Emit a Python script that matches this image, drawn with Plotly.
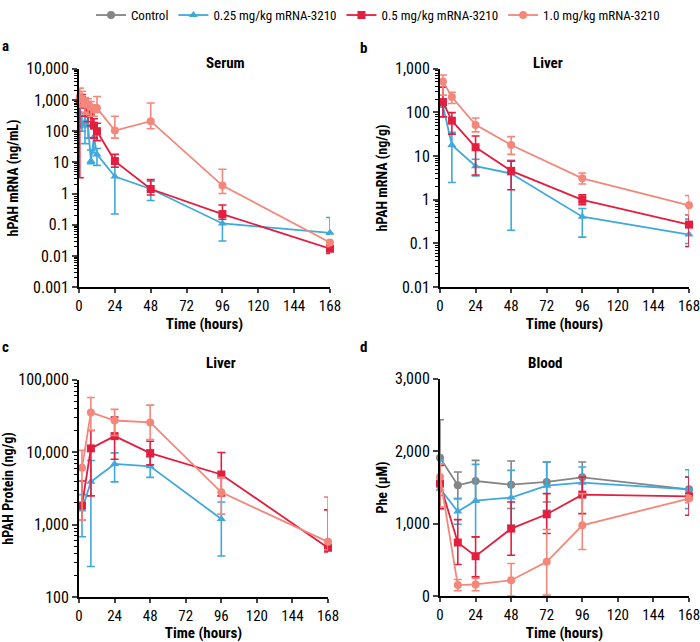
import plotly.graph_objects as go

# Dose groups
groups = ["Control", "0.25 mg/kg mRNA-3210", "0.5 mg/kg mRNA-3210", "1.0 mg/kg mRNA-3210"]
colors = ["#858585", "#3fa9dc", "#e31e3f", "#f4877b"]
symbols = ["circle", "triangle-up", "square", "circle"]

# a - Serum hPAH mRNA (ng/mL)
serum_t = [0.5, 2, 4, 6, 8, 10, 12, 24, 48, 96, 168]
serum_025 = [400, 160, 200, 150, 11, 65, 18, 3.5, 1.4, 0.11, 0.055]
serum_025_hi = [600, 320, 300, 280, 25, 150, 28, 7, 2.5, 0.19, 0.17]
serum_025_lo = [130, 100, 40, 60, 9, 20, 8, 0.22, 0.6, 0.03, 0.05]
serum_05 = [900, 1000, 700, 550, 400, 150, 100, 11, 1.4, 0.22, 0.017]
serum_05_hi = [1500, 1500, 1100, 900, 700, 250, 180, 18, 2.8, 0.43, 0.022]
serum_05_lo = [3.2, 600, 300, 200, 150, 60, 50, 7, 0.9, 0.15, 0.012]
serum_10 = [1300, 1100, 800, 700, 600, 500, 550, 105, 210, 1.8, 0.027]
serum_10_hi = [2400, 1900, 1200, 1100, 900, 700, 1300, 300, 800, 6, 0.03]
serum_10_lo = [700, 600, 400, 350, 300, 300, 400, 60, 120, 1.0, 0.02]

# b - Liver hPAH mRNA (ng/g)
liver_t = [2, 8, 24, 48, 96, 168]
liver_025 = [140, 18, 5.9, 4.0, 0.41, 0.16]
liver_025_hi = [200, 35, 8.5, 8, 0.63, 0.36]
liver_025_lo = [78, 2.5, 3.5, 0.2, 0.14, 0.1]
liver_05 = [173, 65, 16, 4.6, 1.0, 0.27]
liver_05_hi = [380, 99, 29, 7.7, 1.3, 0.45]
liver_05_lo = [80, 32, 3.7, 1.7, 0.77, 0.085]
liver_10 = [515, 225, 52, 18, 3.1, 0.75]
liver_10_hi = [720, 290, 75, 28, 4.1, 1.25]
liver_10_lo = [250, 160, 36, 11, 2.3, 0.45]

# c - Liver hPAH protein (ng/g)
prot_t = [2, 8, 24, 48, 96, 168]
prot_025_t = [2, 8, 24, 48, 96]
prot_025 = [1620, 3900, 6900, 6400, 1200]
prot_025_hi = [2600, 7700, 9800, 8600, 2060]
prot_025_lo = [680, 265, 3900, 4500, 370]
prot_05 = [1840, 11300, 16700, 9730, 4930, 480]
prot_05_hi = [4000, 20000, 30500, 14200, 9900, 1600]
prot_05_lo = [1150, 2500, 8000, 6700, 2500, 420]
prot_10 = [6100, 35400, 27400, 25800, 2800, 580]
prot_10_hi = [10600, 57000, 39000, 44700, 4500, 2400]
prot_10_lo = [1150, 20000, 17000, 15000, 1400, 450]

# d - Blood Phe (uM)
phe_t = [0, 12, 24, 48, 72, 96, 168]
phe_ctrl = [1911, 1530, 1589, 1539, 1576, 1640, 1475]
phe_ctrl_hi = [2434, 1713, 1874, 1865, 1851, 1851, 1644]
phe_ctrl_lo = [1390, 1346, 1300, 1210, 1300, 1415, 1323]
phe_025 = [1484, 1167, 1318, 1360, 1525, 1566, 1475]
phe_025_hi = [1874, 1346, 1819, 1736, 1851, 1782, 1745]
phe_025_lo = [1208, 992, 818, 978, 1185, 1369, 1208]
phe_05 = [1553, 740, 551, 932, 1130, 1401, 1378]
phe_05_hi = [1805, 1056, 818, 1300, 1415, 1644, 1644]
phe_05_lo = [1208, 436, 266, 565, 864, 1139, 1116]
phe_10 = [1644, 152, 161, 220, 473, 978, 1346]
phe_10_hi = [1828, 230, 243, 450, 919, 1415, 1400]
phe_10_lo = [1231, 73, 73, 0, 14, 643, 1290]

FONT = "Liberation Sans Narrow, Arial Narrow, Roboto Condensed, sans-serif"

fig = go.Figure()


def add(g, x, y, hi, lo, xa, ya, legend=False):
    fig.add_trace(go.Scatter(
        x=x, y=y, mode="lines+markers", name=groups[g], legendgroup=groups[g],
        showlegend=legend, xaxis=xa, yaxis=ya, cliponaxis=False,
        line=dict(color=colors[g], width=1.8),
        marker=dict(symbol=symbols[g], size=8, color=colors[g]),
        error_y=dict(type="data", symmetric=False,
                     array=[h - v for h, v in zip(hi, y)],
                     arrayminus=[v - l for v, l in zip(y, lo)],
                     color=colors[g], thickness=1.6, width=4),
    ))


add(1, serum_t, serum_025, serum_025_hi, serum_025_lo, "x", "y")
add(2, serum_t, serum_05, serum_05_hi, serum_05_lo, "x", "y")
add(3, serum_t, serum_10, serum_10_hi, serum_10_lo, "x", "y")

add(1, liver_t, liver_025, liver_025_hi, liver_025_lo, "x2", "y2")
add(2, liver_t, liver_05, liver_05_hi, liver_05_lo, "x2", "y2")
add(3, liver_t, liver_10, liver_10_hi, liver_10_lo, "x2", "y2")

add(1, prot_025_t, prot_025, prot_025_hi, prot_025_lo, "x3", "y3")
add(2, prot_t, prot_05, prot_05_hi, prot_05_lo, "x3", "y3")
add(3, prot_t, prot_10, prot_10_hi, prot_10_lo, "x3", "y3")

add(0, phe_t, phe_ctrl, phe_ctrl_hi, phe_ctrl_lo, "x4", "y4", True)
add(1, phe_t, phe_025, phe_025_hi, phe_025_lo, "x4", "y4", True)
add(2, phe_t, phe_05, phe_05_hi, phe_05_lo, "x4", "y4", True)
add(3, phe_t, phe_10, phe_10_hi, phe_10_lo, "x4", "y4", True)

xticks = [0, 24, 48, 72, 96, 120, 144, 168]
xcommon = dict(range=[0, 168], tickvals=xticks, ticks="outside", ticklen=4, tickwidth=1.5,
               showline=True, linecolor="black", linewidth=1.5, showgrid=False, zeroline=False,
               automargin=False, ticklabeloverflow="allow", tickfont=dict(size=15, color="black"),
               title=dict(text="<b>Time (hours)</b>", font=dict(size=15, color="black"), standoff=5))
ycommon = dict(ticks="outside", ticklen=5, tickwidth=1.5, showline=True, linecolor="black",
               linewidth=2, showgrid=False, zeroline=False, automargin=False,
               tickfont=dict(size=16, color="black"))
minor = dict(ticks="outside", ticklen=3, tickwidth=1, tickcolor="black", showgrid=False, dtick="D1")

fig.update_layout(
    width=700, height=642, margin=dict(l=0, r=0, t=0, b=0),
    paper_bgcolor="white", plot_bgcolor="white",
    font=dict(family=FONT, size=14, color="black"),
    xaxis=dict(domain=[0.1129, 0.4714], anchor="y", **xcommon),
    xaxis2=dict(domain=[0.6286, 0.9843], anchor="y2", **xcommon),
    xaxis3=dict(domain=[0.1129, 0.4686], anchor="y3", **xcommon),
    xaxis4=dict(domain=[0.6286, 0.9843], anchor="y4", **xcommon),
    yaxis=dict(domain=[0.5545, 0.8956], anchor="x", type="log", range=[-3, 4],
               tickvals=[0.001, 0.01, 0.1, 1, 10, 100, 1000, 10000],
               ticktext=["0.001", "0.01", "0.1", "1", "10", "100", "1,000", "10,000"],
               minor=minor,
               title=dict(text="<b>hPAH mRNA (ng/mL)</b>", font=dict(size=14), standoff=4),
               **ycommon),
    yaxis2=dict(domain=[0.5545, 0.8956], anchor="x2", type="log", range=[-2, 3],
                tickvals=[0.01, 0.1, 1, 10, 100, 1000],
                ticktext=["0.01", "0.1", "1", "10", "100", "1,000"],
                minor=minor,
                title=dict(text="<b>hPAH mRNA (ng/g)</b>", font=dict(size=14), standoff=4),
                **ycommon),
    yaxis3=dict(domain=[0.0701, 0.4097], anchor="x3", type="log", range=[2, 5],
                tickvals=[100, 1000, 10000, 100000],
                ticktext=["100", "1,000", "10,000", "100,000"],
                minor=minor,
                title=dict(text="<b>hPAH Protein (ng/g)</b>", font=dict(size=14), standoff=4),
                **ycommon),
    yaxis4=dict(domain=[0.0717, 0.4112], anchor="x4", range=[0, 3000],
                tickvals=[0, 1000, 2000, 3000],
                ticktext=["0", "1,000", "2,000", "3,000"],
                title=dict(text="<b>Phe (µM)</b>", font=dict(size=14), standoff=4),
                **ycommon),
    legend=dict(orientation="h", x=0.54, xanchor="center", y=1.003, yanchor="top",
                font=dict(size=13), itemwidth=30, tracegroupgap=0, bgcolor="rgba(0,0,0,0)"),
)

# panel titles and letters
panel_text = [
    ("<b>Serum</b>", 0.292, 0.922), ("<b>Liver</b>", 0.807, 0.922),
    ("<b>Liver</b>", 0.292, 0.436), ("<b>Blood</b>", 0.807, 0.436),
]
for txt, x, y in panel_text:
    fig.add_annotation(text=txt, x=x, y=y, xref="paper", yref="paper", showarrow=False,
                       font=dict(size=15, color="black"))

letters = [("<b>a</b>", 0.0, 0.948), ("<b>b</b>", 0.511, 0.945),
           ("<b>c</b>", 0.0, 0.461), ("<b>d</b>", 0.511, 0.461)]
for txt, x, y in letters:
    fig.add_annotation(text=txt, x=x, y=y, xref="paper", yref="paper", showarrow=False,
                       xanchor="left", font=dict(size=15, color="black"))

# the page's default body margin would push the 700x642 figure off the window
fig.write_html("out.html", config={"displayModeBar": False},
               post_script="document.body.style.margin='0';")
